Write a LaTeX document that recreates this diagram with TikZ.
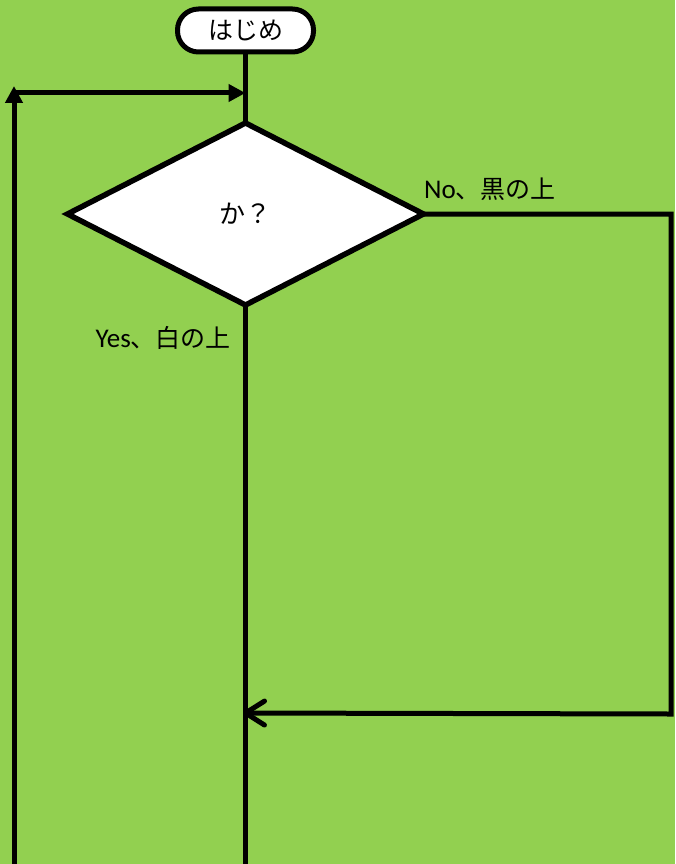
\documentclass[tikz,border=0pt]{standalone}
\usepackage{fontspec}
\newfontfamily\jp{Noto Sans CJK JP}
\newfontfamily\lat{Carlito}
\usetikzlibrary{shapes.geometric,arrows.meta}
\definecolor{bggreen}{RGB}{146,208,80}
\tikzset{
  flow/.style={line width=5pt},
  fillarrow/.style={-{Triangle[length=17pt,width=17pt]}},
  barbarrow/.style={-{Straight Barb[length=19pt,width=24pt,round]}},
  termbox/.style={draw,line width=5pt,fill=white,rounded corners=21pt,minimum width=136pt,minimum height=43pt,inner sep=0pt,font=\jp\fontsize{25}{30}\selectfont},
  decbox/.style={draw,line width=5.5pt,fill=white,diamond,aspect=1.95,minimum width=356pt,minimum height=182pt,inner sep=0pt,outer sep=0pt,font=\jp\fontsize{26}{30}\selectfont},
  lbl/.style={inner sep=0pt,font=\fontsize{25}{30}\selectfont}
}
\begin{document}
\begin{tikzpicture}[x=1pt,y=-1pt]
\fill[bggreen] (0,0) rectangle (675,864);
\useasboundingbox (0,0) rectangle (675,864);
\node[termbox] (start) at (245.5,30.5) {はじめ};
\node[decbox] (dec) at (245.5,214) {か？};
\coordinate (join) at (245.5,93);
\coordinate (lbot) at (14,866);
\coordinate (ltop) at (14,93);
\coordinate (rtop) at (671,214);
\coordinate (rbot) at (671,714);
\coordinate (merge) at (243,713);
\coordinate (bot) at (245.5,866);
\draw[flow] (start.south) -- (dec.north);
\draw[flow] (dec.south) -- (bot);
\draw[flow,fillarrow] (lbot) -- (14,86);
\draw[flow,fillarrow] (ltop) -- (join);
\draw[flow,barbarrow] (dec.east) -- (rtop) -- (rbot) -- (merge);
\node[lbl,anchor=west] (nolbl) at (424,189) {{\lat\fontsize{27}{30}\selectfont No}{\jp 、黒の上}};
\node[lbl,anchor=east] (yeslbl) at (231,338) {{\lat\fontsize{27}{30}\selectfont Yes}{\jp 、白の上}};
\end{tikzpicture}
\end{document}
